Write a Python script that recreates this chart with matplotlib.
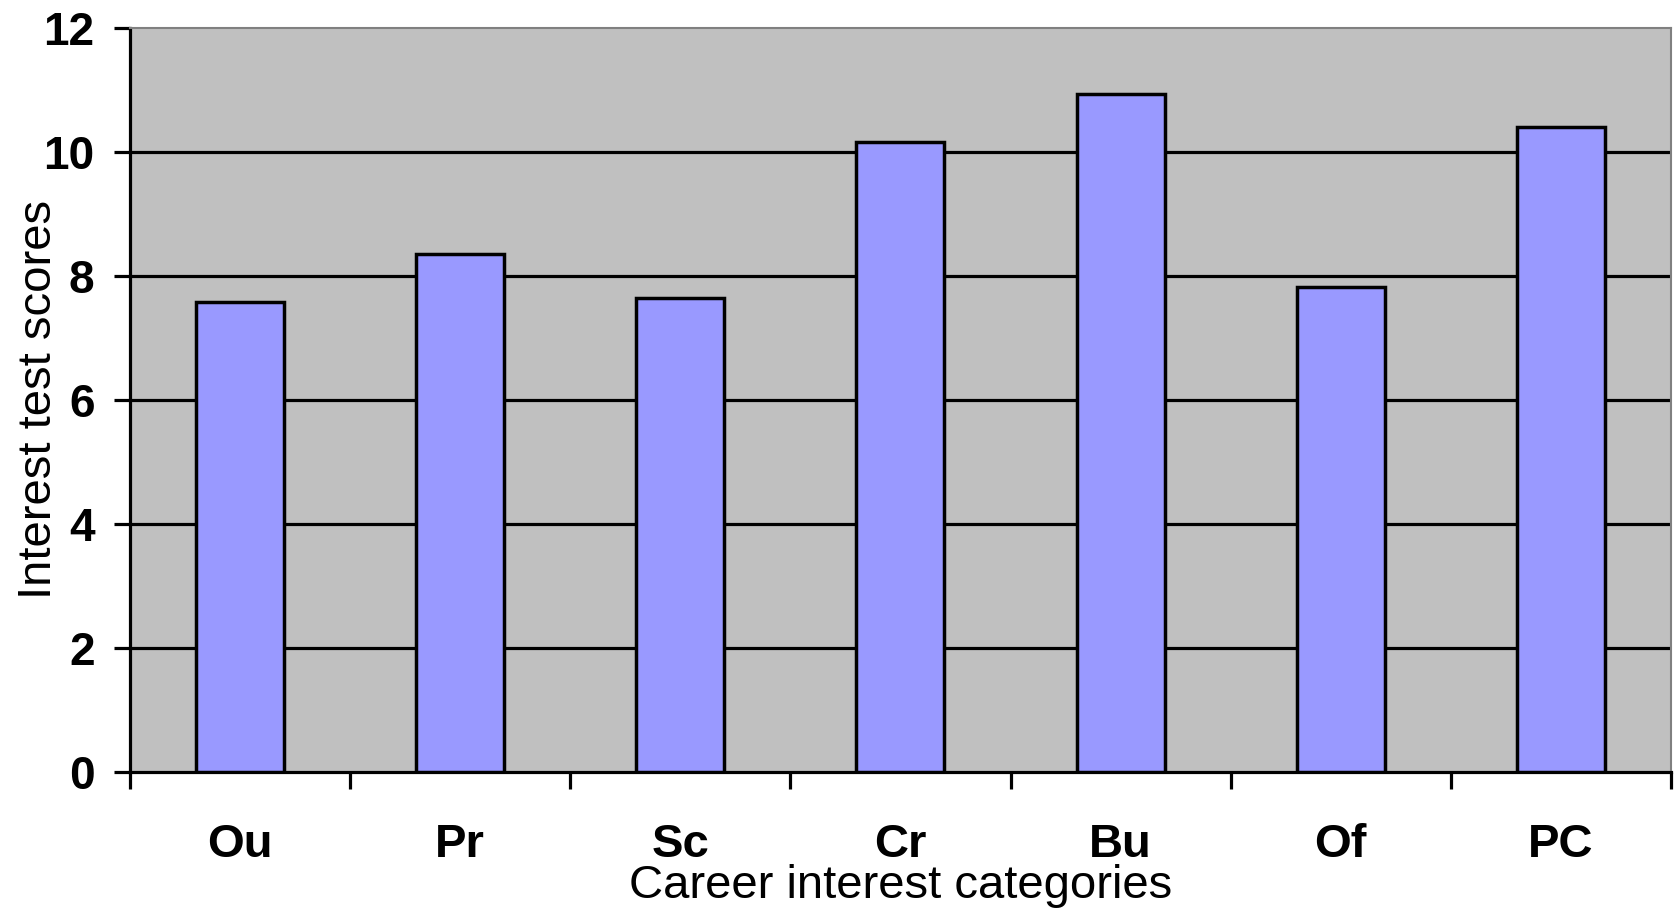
import matplotlib
matplotlib.use("Agg")
import matplotlib.pyplot as plt
import numpy as np

categories = ["Ou", "Pr", "Sc", "Cr", "Bu", "Of", "PC"]
scores = [7.59, 8.35, 7.65, 10.17, 10.94, 7.82, 10.41]
y_ticks = [0, 2, 4, 6, 8, 10, 12]

plt.rcParams['font.family'] = ['Liberation Sans', 'DejaVu Sans']

fig = plt.figure(figsize=(16.79, 9.09), dpi=100)
ax = fig.add_axes([0.0774, 0.1507, 0.9952 - 0.0774, 0.969 - 0.1507])
ax.set_facecolor('#C0C0C0')

x = np.arange(len(categories))
ax.bar(x, scores, width=0.4, color='#9999FF', edgecolor='black', linewidth=2.5, zorder=3)

ax.set_xlim(-0.5, len(categories) - 0.5)
ax.set_ylim(0, 12)
ax.set_yticks(y_ticks)
ax.set_yticklabels([str(v) for v in y_ticks], fontsize=33, fontweight='bold')
ax.yaxis.grid(True, color='black', linewidth=2.3, zorder=1)
ax.set_axisbelow(True)
for val, gl in zip(y_ticks, ax.yaxis.get_gridlines()):
    if val in (0, 12):
        gl.set_visible(False)

ax.set_xticks(np.arange(-0.5, len(categories), 1.0))
ax.set_xticklabels([])
ax.set_xticks(x, minor=True)
ax.set_xticklabels(categories, minor=True, fontsize=34, fontweight='bold')
ax.tick_params(axis='x', which='major', length=12, width=2.3, direction='out')
ax.tick_params(axis='x', which='minor', length=0, pad=37)
ax.tick_params(axis='y', which='major', length=11.5, width=2.3, direction='out', pad=14)

for side in ('left', 'bottom'):
    ax.spines[side].set_color('black')
    ax.spines[side].set_linewidth(2.3)
for side in ('top', 'right'):
    ax.spines[side].set_color('#808080')
    ax.spines[side].set_linewidth(1.5)

fig.text(0.5364, 0.0125, "Career interest categories", fontsize=34,
         ha='center', va='baseline', rotation_mode='anchor')
fig.text(0.0304, 0.5605, "Interest test scores", fontsize=34,
         ha='center', va='baseline', rotation=90, rotation_mode='anchor')

fig.savefig("out.png", dpi=100, facecolor='white')
